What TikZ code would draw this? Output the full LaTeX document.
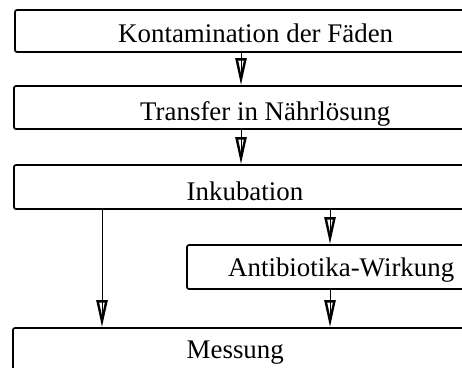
\documentclass[tikz,border=0pt]{standalone}
\usepackage{fontspec}
\setmainfont{Liberation Serif}
\usetikzlibrary{arrows.meta}
\begin{document}
\begin{tikzpicture}[x=1pt,y=-1pt,
  box/.style={draw, line width=1.7pt, rounded corners=2pt, inner sep=0pt, minimum height=44pt, minimum width=487pt},
  lbl/.style={inner sep=0pt, anchor=base west, font=\fontsize{26.9}{30}\selectfont},
  conn/.style={line width=0.8pt, -{Triangle[open, length=27pt, width=11pt, line width=2.4pt]}},
  shaft/.style={line width=0.9pt, shorten >=9pt}]
\clip (0,0) rectangle (462,367);
\fill[white] (0,0) rectangle (462,367);
% boxes
\node[box, minimum width=485pt, minimum height=42pt] (b1) at (257.5,31) {};
\node[box, minimum width=486pt, minimum height=43pt] (b2) at (257,107.5) {};
\node[box, minimum width=486pt] (b3) at (257,187) {};
\node[box, minimum width=313pt] (b4) at (343.5,267) {};
\node[box, minimum width=487pt] (b5) at (256.5,350) {};
% labels
\node[lbl] (t1) at (118,42.3) {Kontamination der Fäden};
\node[lbl] (t2) at (140,120) {Transfer in Nährlösung};
\node[lbl] (t3) at (186.5,200) {Inkubation};
\node[lbl] (t4) at (228,276.7) {Antibiotika-Wirkung};
\node[lbl] (t5) at (186.5,358.3) {Messung};
% connector columns
\coordinate (cA) at (241,0);
\coordinate (cL) at (102,0);
\coordinate (cR) at (330,0);
% connectors
\draw[conn] (b1.south -| cA) -- (b2.north -| cA);
\draw[shaft] (b1.south -| cA) -- (b2.north -| cA);
\draw[conn] (b2.south -| cA) -- (b3.north -| cA);
\draw[shaft] (b2.south -| cA) -- (b3.north -| cA);
\draw[conn] (b3.south -| cL) -- (b5.north -| cL);
\draw[shaft] (b3.south -| cL) -- (b5.north -| cL);
\draw[conn] (b3.south -| cR) -- (b4.north -| cR);
\draw[shaft] (b3.south -| cR) -- (b4.north -| cR);
\draw[conn] (b4.south -| cR) -- (b5.north -| cR);
\draw[shaft] (b4.south -| cR) -- (b5.north -| cR);
\end{tikzpicture}
\end{document}
